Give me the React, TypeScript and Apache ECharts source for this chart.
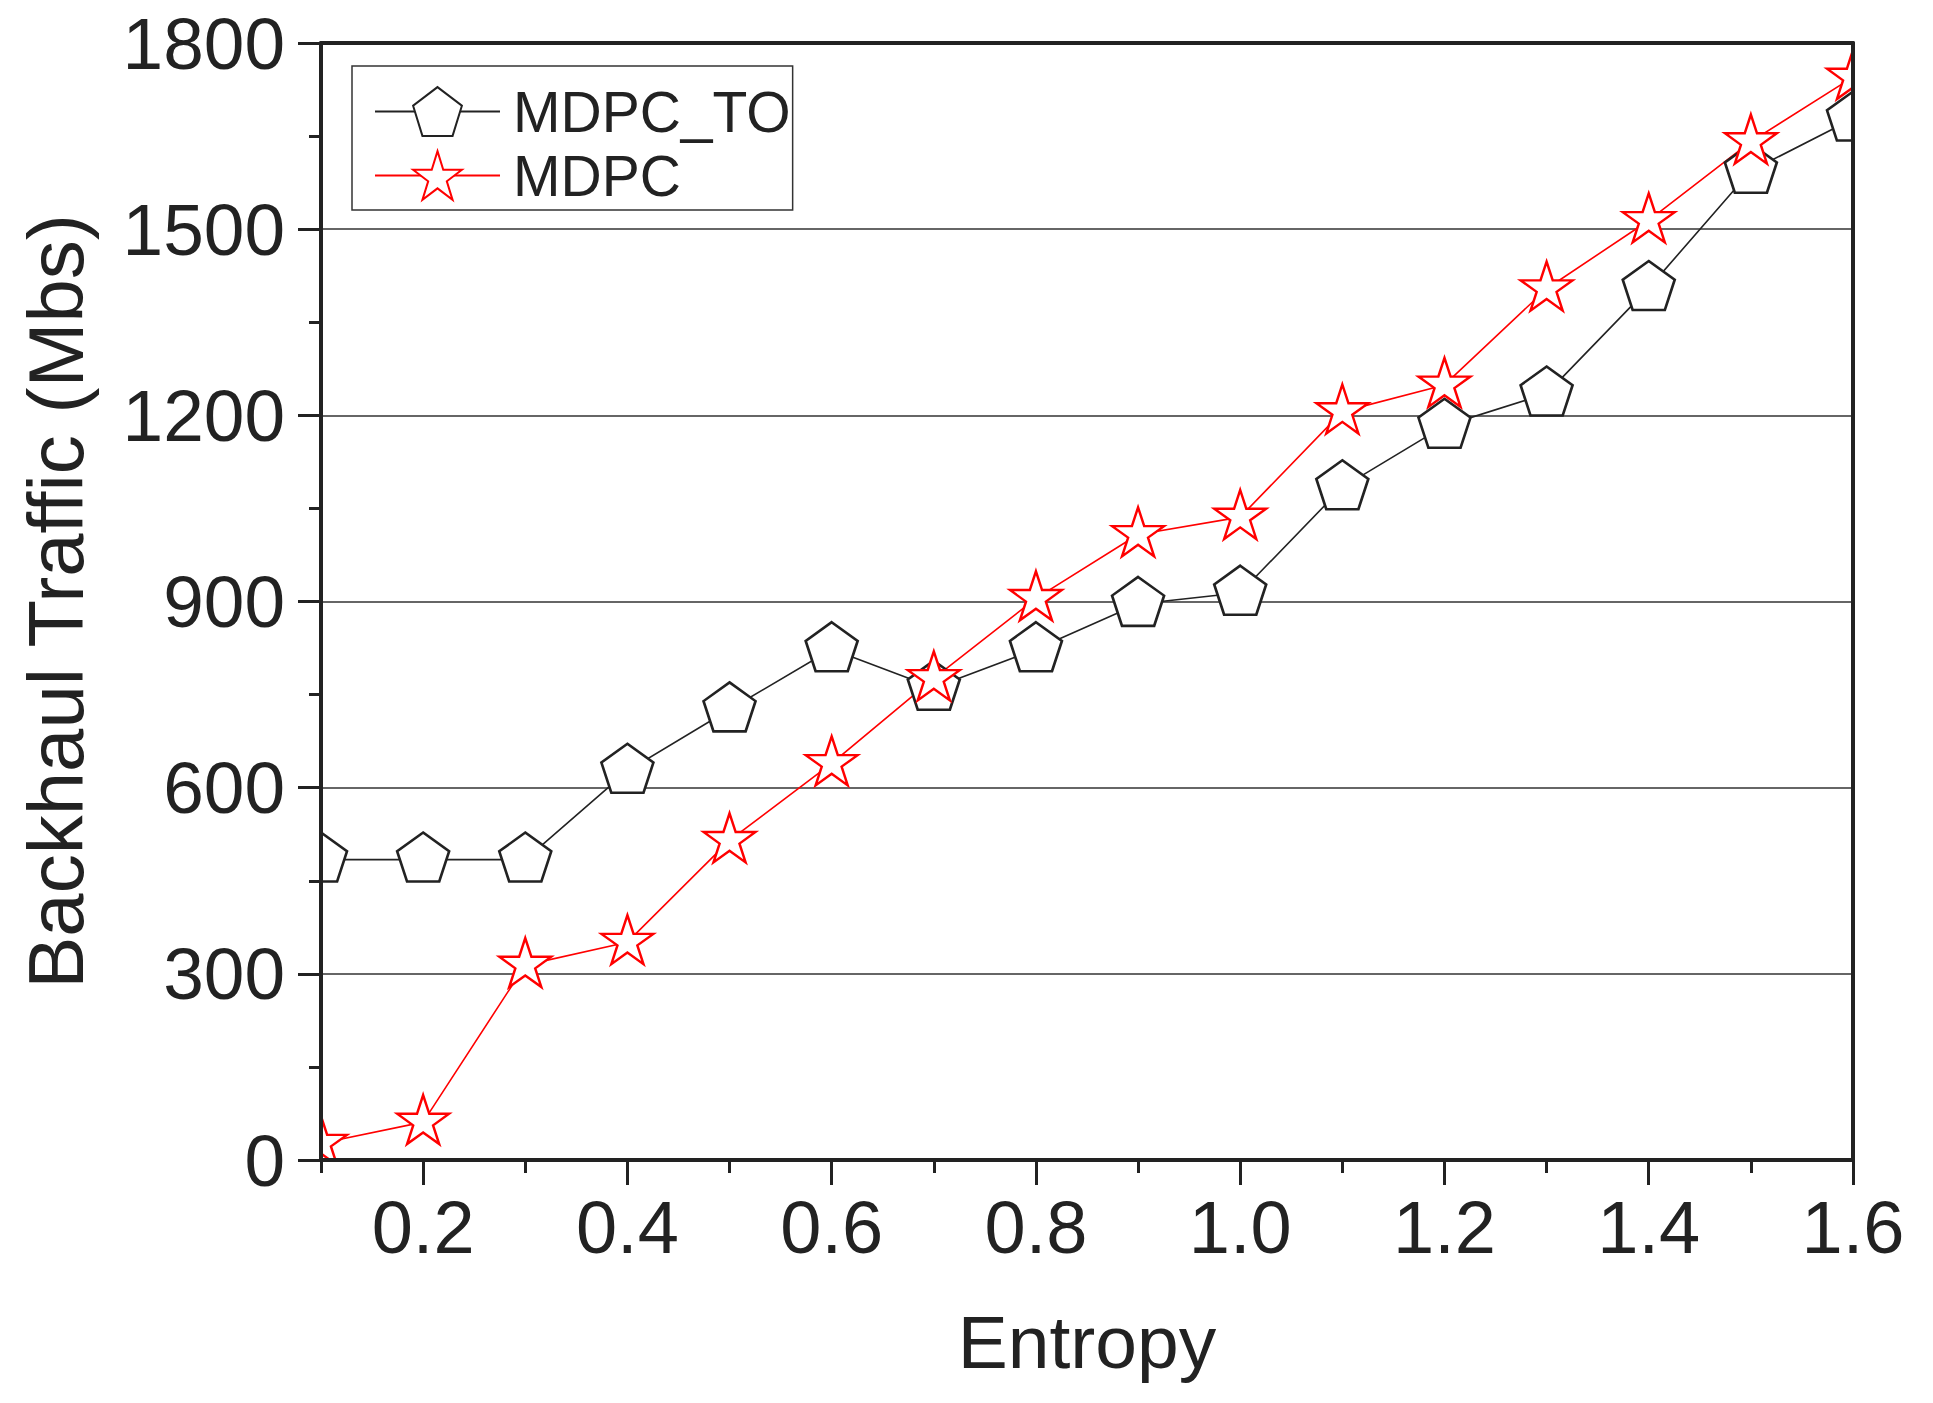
import React, { useEffect, useRef } from "react";
import * as echarts from "echarts";

const entropy = [0.1, 0.2, 0.3, 0.4, 0.5, 0.6, 0.7, 0.8, 0.9, 1.0, 1.1, 1.2, 1.3, 1.4, 1.5, 1.6];
const mdpcTO = [484, 484, 484, 627, 726, 823, 761, 823, 896, 914, 1084, 1183, 1235, 1405, 1594, 1678];
const mdpc = [27, 61, 314, 351, 515, 639, 776, 905, 1008, 1036, 1206, 1249, 1404, 1514, 1641, 1745];
const yTicks = { min: 0, max: 1800, interval: 300 };
const seriesNames = ["MDPC_TO", "MDPC"];
const xTitle = "Entropy";
const yTitle = "Backhaul Traffic (Mbs)";

const W = 1933;
const H = 1403;
const GL = 321;
const GT = 43;
const GR = 80;
const GB = 243;
const FONT = "'Liberation Sans', Arial, Helvetica, sans-serif";
const INK = "#222";

const PENTAGON = "path://M0,-100L95.11,-30.9L58.78,80.9L-58.78,80.9L-95.11,-30.9Z";
const STAR =
  "path://M0,-100L22.45,-30.9L95.11,-30.9L36.33,11.8L58.78,80.9L0,38.2L-58.78,80.9L-36.33,11.8L-95.11,-30.9L-22.45,-30.9Z";

export default function App() {
  const ref = useRef<HTMLDivElement>(null);
  useEffect(() => {
    if (!ref.current) return;
    const chart = echarts.init(ref.current, undefined, { renderer: "svg" });
    const cats = entropy.map((v) => v.toFixed(1));
    const plotBottom = H - GB;
    const plotRight = W - GR;
    chart.setOption({
      animation: false,
      backgroundColor: "#fff",
      textStyle: { fontFamily: FONT },
      grid: { left: GL, top: GT, right: GR, bottom: GB, containLabel: false },
      legend: {
        show: true,
        orient: "vertical",
        left: 352,
        top: 66,
        selectedMode: false,
        backgroundColor: "#fff",
        borderColor: "#333",
        borderWidth: 1.5,
        borderRadius: 0,
        padding: [17, 2, 6, 22],
        itemWidth: 125,
        itemHeight: 61,
        itemGap: 7,
        textStyle: { fontSize: 57, color: INK, fontFamily: FONT, padding: [0, 0, 0, 8] },
        data: seriesNames,
        z: 20,
      },
      xAxis: [
        {
          type: "category",
          data: cats,
          boundaryGap: false,
          position: "bottom",
          z: 10,
          axisLine: { show: true, onZero: false, lineStyle: { color: INK, width: 4 } },
          axisTick: {
            show: true,
            interval: (i: number) => i % 2 === 1,
            length: 25,
            lineStyle: { color: INK, width: 3 },
          },
          axisLabel: {
            show: true,
            interval: (i: number) => i % 2 === 1,
            fontSize: 74,
            color: INK,
            fontFamily: FONT,
            margin: 30,
          },
          splitLine: { show: false },
          name: xTitle,
          nameLocation: "middle",
          nameGap: 144,
          nameTextStyle: { fontSize: 75, color: INK, fontFamily: FONT },
        },
        {
          type: "category",
          data: cats,
          boundaryGap: false,
          position: "bottom",
          z: 10,
          axisLine: { show: false },
          axisTick: {
            show: true,
            interval: (i: number) => i % 2 === 0,
            length: 13,
            lineStyle: { color: INK, width: 3 },
          },
          axisLabel: { show: false },
          splitLine: { show: false },
        },
        {
          type: "category",
          data: cats,
          boundaryGap: false,
          position: "top",
          z: 10,
          axisLine: { show: true, onZero: false, lineStyle: { color: INK, width: 4 } },
          axisTick: { show: false },
          axisLabel: { show: false },
          splitLine: { show: false },
        },
      ],
      yAxis: [
        {
          type: "value",
          min: yTicks.min,
          max: yTicks.max,
          interval: yTicks.interval,
          position: "left",
          z: 0,
          axisLine: { show: false },
          axisTick: { show: false },
          axisLabel: { show: false },
          splitLine: { show: true, lineStyle: { color: "#333", width: 1.5 } },
        },
        {
          type: "value",
          min: yTicks.min,
          max: yTicks.max,
          interval: yTicks.interval,
          position: "left",
          z: 10,
          axisLine: { show: true, onZero: false, lineStyle: { color: INK, width: 4 } },
          axisTick: { show: true, length: 23, lineStyle: { color: INK, width: 3 } },
          minorTick: { show: true, splitNumber: 2, length: 12, lineStyle: { color: INK, width: 3 } },
          axisLabel: {
            show: true,
            fontSize: 73,
            color: INK,
            fontFamily: FONT,
            margin: 36,
            formatter: (v: number) => String(v),
          },
          splitLine: { show: false },
          name: yTitle,
          nameLocation: "middle",
          nameGap: 226,
          nameTextStyle: { fontSize: 78, color: INK, fontFamily: FONT },
        },
        {
          type: "value",
          min: yTicks.min,
          max: yTicks.max,
          interval: yTicks.interval,
          position: "right",
          z: 10,
          axisLine: { show: true, onZero: false, lineStyle: { color: INK, width: 4 } },
          axisTick: { show: false },
          axisLabel: { show: false },
          splitLine: { show: false },
        },
      ],
      graphic: [
        { type: "rect", z: 5, silent: true, shape: { x: GL - 32, y: GT - 40, width: 30, height: plotBottom - GT + 80 }, style: { fill: "#fff" } },
        { type: "rect", z: 5, silent: true, shape: { x: plotRight + 2, y: 0, width: 120, height: H }, style: { fill: "#fff" } },
        { type: "rect", z: 5, silent: true, shape: { x: GL - 32, y: plotBottom + 2, width: 70, height: 30 }, style: { fill: "#fff" } },
      ],
      series: [
        {
          name: seriesNames[0],
          type: "line",
          xAxisIndex: 0,
          yAxisIndex: 0,
          data: mdpcTO,
          z: 2,
          clip: true,
          symbol: PENTAGON,
          symbolSize: [52, 49],
          symbolOffset: [0, -2.6],
          showAllSymbol: true,
          lineStyle: { color: INK, width: 1.6 },
          itemStyle: { color: "#fff", borderColor: INK, borderWidth: 2.6 },
          emphasis: { disabled: true },
        },
        {
          name: seriesNames[1],
          type: "line",
          xAxisIndex: 0,
          yAxisIndex: 0,
          data: mdpc,
          z: 2,
          clip: true,
          symbol: STAR,
          symbolSize: [52, 49],
          symbolOffset: [0, -2.6],
          showAllSymbol: true,
          lineStyle: { color: "#ff0000", width: 1.6 },
          itemStyle: { color: "#fff", borderColor: "#ff0000", borderWidth: 2.4 },
          emphasis: { disabled: true },
        },
      ],
    });
    return () => chart.dispose();
  }, []);
  return (
    <div
      ref={ref}
      style={{ position: "absolute", left: 0, top: 0, width: W + "px", height: H + "px", background: "#fff" }}
    />
  );
}
